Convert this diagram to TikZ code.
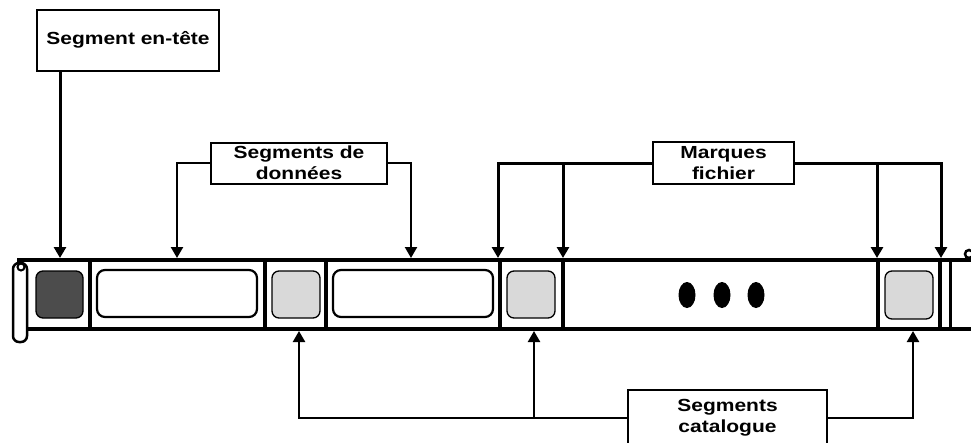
\documentclass[tikz,border=0pt]{standalone}
\usepackage{fontspec}
\setmainfont{Liberation Sans}[FakeStretch=1.2]
\usetikzlibrary{arrows.meta}
\begin{document}
\begin{tikzpicture}[x=1pt,y=-1pt,
  lbl/.style={draw, line width=2pt, fill=white, font=\fontsize{17.5}{21}\selectfont\bfseries, align=center, inner sep=0pt},
  arr/.style={-{Triangle[width=12pt,length=11pt]}, line width=3pt},
  thinarr/.style={-{Triangle[width=12pt,length=11pt]}, line width=2.3pt},
  div/.style={line width=4.5pt},
  tapeline/.style={line width=3.5pt},
  datbox/.style={draw, line width=2.2pt, rounded corners=8pt, fill=white},
  catbox/.style={draw, line width=1.3pt, rounded corners=7pt, fill=black!15},
  hdrbox/.style={draw, line width=1.3pt, rounded corners=7pt, fill=black!70},
]
\useasboundingbox (0,0) rectangle (971,442);
\clip (0,0) rectangle (971,442);

% tape
\draw[tapeline] (17,260) -- (971,260);
\draw[tapeline] (27,329) -- (971,329);
\draw[line width=2.5pt, rounded corners=6pt, fill=white] (13,263) rectangle (27,342);
\draw[line width=2pt] (21,267) circle[radius=3.5pt];
\draw[line width=2.5pt] (969,254) circle[radius=4pt];
\foreach \xx in {90,265,326,500,563,878,940} \draw[div] (\xx,260) -- (\xx,329);
\draw[line width=3pt] (950,260) -- (950,329);

% cells
\draw[hdrbox] (36,271) rectangle (83,318);
\draw[datbox] (97,270) rectangle (257,317);
\draw[catbox] (272,271) rectangle (320,318);
\draw[datbox] (333,270) rectangle (493,317);
\draw[catbox] (507,271) rectangle (555,318);
\draw[catbox] (885,271) rectangle (933,319);
\foreach \xx in {687,722,756} \fill (\xx,295) ellipse[x radius=8.5pt, y radius=13pt];

% labels
\node[lbl, minimum width=182pt, minimum height=61pt] (hdr) at (128,40) {Segment en-tête};
\node[lbl, minimum width=176pt, minimum height=41pt] (dat) at (299,163) {Segments de\\données};
\node[lbl, minimum width=141pt, minimum height=42pt] (mf) at (723.5,163) {Marques\\fichier};
\node[lbl, minimum width=199pt, minimum height=56pt] (cat) at (727.5,418) {Segments\\catalogue};

% arrow targets
\coordinate (h1) at (60,258);
\coordinate (d1) at (177,258);
\coordinate (d2) at (411,258);
\coordinate (m1) at (498,258);
\coordinate (m2) at (563,258);
\coordinate (m3) at (877,258);
\coordinate (m4) at (941,258);
\coordinate (c1) at (299,331);
\coordinate (c2) at (534,331);
\coordinate (c3) at (913,331);

% connectors
\draw[arr] (h1 |- hdr.south) -- (h1);
\draw[thinarr] (dat.west) -| (d1);
\draw[thinarr] (dat.east) -| (d2);
\draw[arr] (mf.west) -| (m1);
\draw[arr] (m2 |- mf.west) -- (m2);
\draw[arr] (mf.east) -| (m4);
\draw[arr] (m3 |- mf.east) -- (m3);
\draw[thinarr] (cat.west) -| (c1);
\draw[thinarr] (c2 |- cat.west) -- (c2);
\draw[thinarr] (cat.east) -| (c3);
\end{tikzpicture}
\end{document}
